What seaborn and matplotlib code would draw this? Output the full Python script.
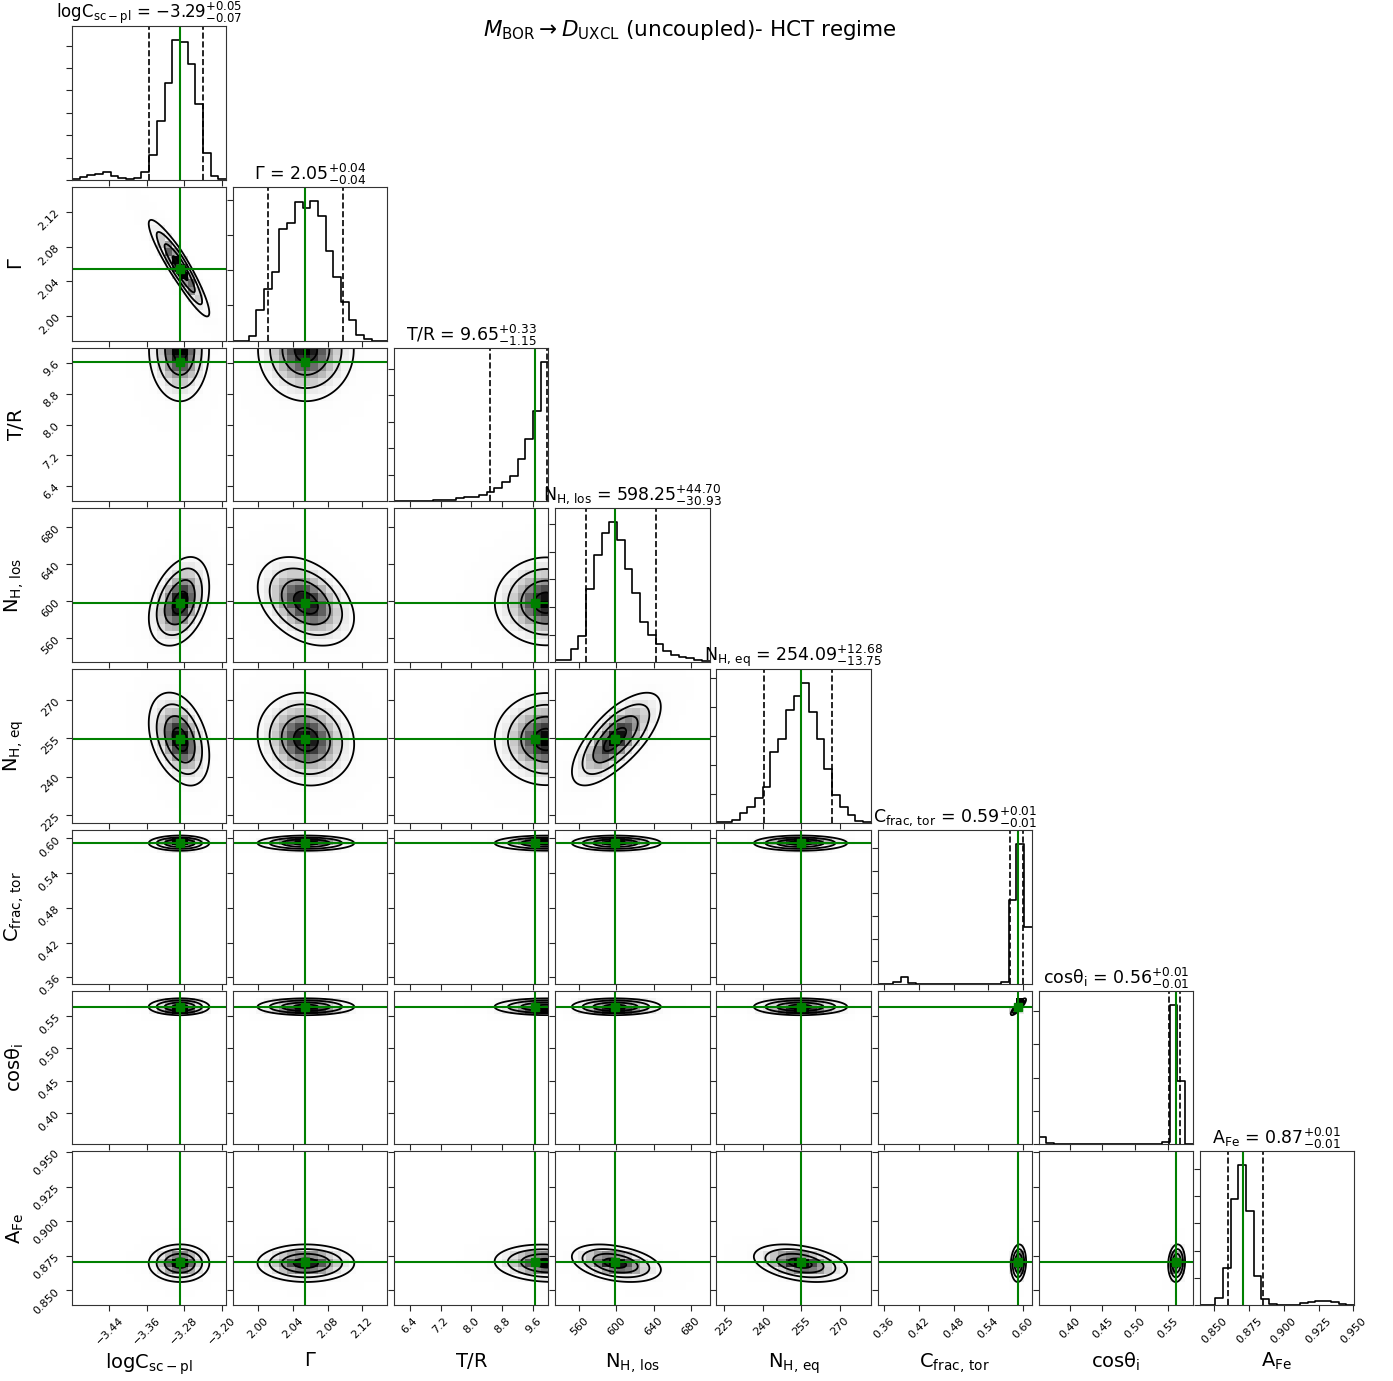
import numpy as np
import matplotlib
matplotlib.use("Agg")
import matplotlib.pyplot as plt
import seaborn as sns
from matplotlib.colors import LinearSegmentedColormap
from matplotlib.ticker import MultipleLocator

# ==[ values ]============================================================
labels = [r"$\mathrm{logC_{sc-pl}}$", r"$\Gamma$", r"$\mathrm{T/R}$",
          r"$\mathrm{N_{H,\,los}}$", r"$\mathrm{N_{H,\,eq}}$",
          r"$\mathrm{C_{frac,\,tor}}$", r"$\mathrm{cos\theta_i}$",
          r"$\mathrm{A_{Fe}}$"]

medians = [-3.29, 2.05, 9.65, 598.25, 254.09, 0.59, 0.56, 0.87]
err_lo = [0.07, 0.04, 1.15, 30.93, 13.75, 0.01, 0.01, 0.01]
err_hi = [0.05, 0.04, 0.33, 44.70, 12.68, 0.01, 0.01, 0.01]

# dashed 16/84 percentile lines and green reference lines
q_lo = [-3.356, 2.011, 8.48, 567.3, 240.34, 0.578, 0.553, 0.860]
q_hi = [-3.240, 2.098, 9.96, 642.95, 266.8, 0.600, 0.569, 0.885]
truths = [-3.288, 2.054, 9.64, 598.0, 254.7, 0.592, 0.563, 0.8705]

ranges = [(-3.52, -3.19), (1.971, 2.149), (6.0, 10.0), (534.5, 700.0),
          (222.0, 282.0), (0.349, 0.615), (0.352, 0.589), (0.8395, 0.9505)]

axis_ticks = [[-3.44, -3.36, -3.28, -3.20], [2.00, 2.04, 2.08, 2.12],
              [6.4, 7.2, 8.0, 8.8, 9.6], [560, 600, 640, 680],
              [225, 240, 255, 270], [0.36, 0.42, 0.48, 0.54, 0.60],
              [0.40, 0.45, 0.50, 0.55], [0.850, 0.875, 0.900, 0.925, 0.950]]
axis_ticklabels = [["\u22123.44", "\u22123.36", "\u22123.28", "\u22123.20"],
                   ["2.00", "2.04", "2.08", "2.12"],
                   ["6.4", "7.2", "8.0", "8.8", "9.6"],
                   ["560", "600", "640", "680"],
                   ["225", "240", "255", "270"],
                   ["0.36", "0.42", "0.48", "0.54", "0.60"],
                   ["0.40", "0.45", "0.50", "0.55"],
                   ["0.850", "0.875", "0.900", "0.925", "0.950"]]

# 1D histograms, 20 bins over each range
hist_logc = [9, 27, 45, 54, 72, 33, 18, 12, 21, 69, 225, 528, 864, 1248,
             1230, 1032, 678, 240, 39, 9]
hist_gamma = [0, 0, 27, 175, 295, 388, 631, 669, 787, 752, 792, 707, 507,
              361, 217, 118, 32, 8, 0, 0]
hist_tr = [0, 5, 5, 10, 10, 15, 15, 25, 45, 60, 70, 95, 145, 200, 295, 385,
           635, 950, 1365, 2110]
hist_nhlos = [15, 15, 92, 190, 530, 778, 931, 1011, 887, 671, 498, 287, 194,
              134, 80, 49, 39, 32, 15, 5]
hist_nheq = [5, 9, 23, 69, 111, 173, 247, 490, 578, 781, 876, 966, 767, 582,
             374, 196, 111, 58, 16, 9]
hist_cfrac = [0, 0, 37, 148, 22, 0, 0, 0, 0, 0, 0, 0, 0, 0, 0, 0, 37, 1850,
              3100, 1260]
hist_cos = [220, 25, 5, 0, 0, 0, 0, 0, 0, 0, 0, 0, 0, 0, 0, 10, 70, 4200,
            1910, 0]
hist_afe = [0, 0, 98, 540, 1561, 2052, 1385, 427, 83, 10, 5, 5, 5, 29, 49,
            64, 64, 49, 15, 5]
hist_counts = [hist_logc, hist_gamma, hist_tr, hist_nhlos, hist_nheq,
               hist_cfrac, hist_cos, hist_afe]
hist_ystep = [200, 200, 400, 200, 200, 500, 1000, 400]

# core of the 2D posteriors: centre, width below / above, pair correlation
core_center = [-3.288, 2.055, 9.95, 598.0, 254.5, 0.592, 0.564, 0.8697]
core_sig_lo = [0.034, 0.028, 0.68, 23.0, 9.0, 0.0066, 0.0065, 0.0068]
core_sig_hi = [0.031, 0.028, 0.30, 25.0, 9.2, 0.0066, 0.0065, 0.0068]
corr = {(0, 1): -0.92, (0, 3): 0.35, (0, 4): -0.35, (1, 3): -0.35,
        (1, 4): -0.1, (3, 4): 0.7, (2, 7): -0.1, (3, 7): -0.35,
        (4, 7): -0.35, (5, 6): 0.85, (5, 7): 0.1, (6, 7): 0.1}

# ==[ helpers ]===========================================================
fractions = 1.0 - np.exp(-0.5 * np.array([0.5, 1.0, 1.5, 2.0]) ** 2)
shade_cmap = LinearSegmentedColormap.from_list(
    "shade", [(1, 1, 1, 0), (0, 0, 0, 1)])


def split_z(v, k):
    d = v - core_center[k]
    return np.where(d < 0, d / core_sig_lo[k], d / core_sig_hi[k])


def model_density(X, Y, kx, ky):
    u = split_z(X, kx)
    w = split_z(Y, ky)
    r = corr.get((min(kx, ky), max(kx, ky)), 0.0)
    return np.exp(-0.5 * (u * u - 2 * r * u * w + w * w) / (1 - r * r))


def mass_levels(Z):
    flat = np.sort(Z.ravel())[::-1]
    cum = np.cumsum(flat)
    cum /= cum[-1]
    lv = [flat[min(np.searchsorted(cum, f), flat.size - 1)] for f in fractions]
    return sorted(set(lv))


def mids(e):
    return 0.5 * (e[1:] + e[:-1])


# ==[ figure ]============================================================
sns.set_style("ticks")
plt.rcParams["font.family"] = ["DejaVu Sans"]
plt.rcParams["text.color"] = "black"
plt.rcParams["axes.labelcolor"] = "black"
plt.rcParams["xtick.labelcolor"] = "black"
plt.rcParams["ytick.labelcolor"] = "black"
plt.rcParams["axes.edgecolor"] = "0.2"

n = len(labels)
fig, axes = plt.subplots(n, n, figsize=(13.93, 13.81), dpi=100)
fig.subplots_adjust(left=0.0517, right=0.972, bottom=0.055, top=0.981,
                    wspace=0.045, hspace=0.045)

for i in range(n):
    for j in range(n):
        ax = axes[i, j]
        if j > i:
            ax.set_axis_off()
            continue

        if i == j:
            nb = len(hist_counts[i])
            edges = np.linspace(ranges[i][0], ranges[i][1], nb + 1)
            sns.histplot(x=mids(edges), weights=np.asarray(hist_counts[i], float),
                         bins=nb, binrange=ranges[i],
                         element="step", fill=False, color="k",
                         linewidth=1.2, ax=ax)
            ax.set_ylim(0, 1.1 * max(hist_counts[i]))
            ax.yaxis.set_major_locator(MultipleLocator(hist_ystep[i]))
            ax.set_yticklabels([])
            ax.set_ylabel("")
            for q in (q_lo[i], q_hi[i]):
                ax.axvline(q, ls="--", color="k", lw=1.2)
            ax.axvline(truths[i], color="g", lw=1.5)
            title = labels[i] + " = " + r"${:.2f}_{{-{:.2f}}}^{{+{:.2f}}}$".format(
                medians[i], err_lo[i], err_hi[i])
            if i == 0:
                ax.set_title(title, fontsize=12, pad=0)
            else:
                ax.set_title(title, fontsize=12.5, pad=3)
        else:
            ex = np.linspace(ranges[j][0], ranges[j][1], 21)
            ey = np.linspace(ranges[i][0], ranges[i][1], 21)
            CX, CY = np.meshgrid(mids(ex), mids(ey))
            Zb = model_density(CX, CY, j, i)
            sns.histplot(x=CX.ravel(), y=CY.ravel(), weights=Zb.ravel(),
                         bins=20, binrange=(ranges[j], ranges[i]),
                         cmap=shade_cmap, vmin=0, vmax=Zb.max(),
                         thresh=None, ax=ax)
            fx = np.linspace(ranges[j][0], ranges[j][1], 320)
            fy = np.linspace(ranges[i][0], ranges[i][1], 320)
            FX, FY = np.meshgrid(fx, fy)
            Zf = model_density(FX, FY, j, i)
            ax.contour(FX, FY, Zf, levels=mass_levels(Zf), colors="k",
                       linewidths=1.3)
            ax.axvline(truths[j], color="g", lw=1.5)
            ax.axhline(truths[i], color="g", lw=1.5)
            ax.plot(truths[j], truths[i], "s", color="g", ms=6)
            ax.set_ylim(ranges[i])
            ax.set_yticks(axis_ticks[i])
            if j == 0:
                ax.set_yticklabels(axis_ticklabels[i], rotation=45)
                ax.set_ylabel(labels[i], fontsize=14)
                ax.yaxis.set_label_coords(-0.3, 0.5)
            else:
                ax.set_yticklabels([])
                ax.set_ylabel("")

        ax.set_xlim(ranges[j])
        ax.set_xticks(axis_ticks[j])
        if i == n - 1:
            ax.set_xticklabels(axis_ticklabels[j], rotation=45)
            ax.set_xlabel(labels[j], fontsize=14)
            ax.xaxis.set_label_coords(0.5, -0.3)
        else:
            ax.set_xticklabels([])
            ax.set_xlabel("")
        ax.tick_params(labelsize=8, length=4)

fig.text(0.495, 0.978,
         r"$M_{\rm BOR} \rightarrow D_{\rm UXCL}$ (uncoupled)- HCT regime",
         ha="center", va="center", fontsize=15.5)

fig.savefig("out.png", dpi=100)
